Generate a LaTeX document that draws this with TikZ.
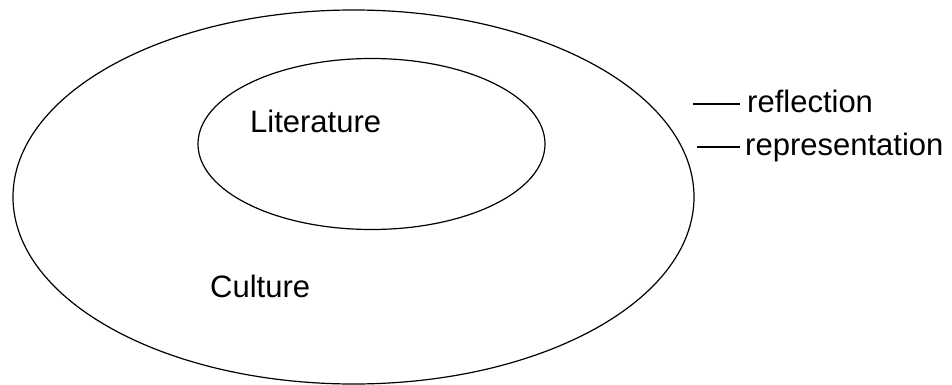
\documentclass[tikz,border=0pt]{standalone}
\usepackage{fontspec}
\setmainfont{Liberation Sans}
\usetikzlibrary{shapes.geometric}
\begin{document}
\begin{tikzpicture}[x=1pt,y=-1pt,
  ring/.style={draw, ellipse, line width=1.2pt, inner sep=0pt},
  lbl/.style={inner sep=0pt, anchor=base west, font=\fontsize{31}{36}\selectfont},
  tick/.style={line width=1.3pt}]
\useasboundingbox (0,0) rectangle (952,385);
\node[ring, minimum width=681pt, minimum height=374pt] (culture) at (353.5,197) {};
\node[ring, minimum width=347pt, minimum height=171pt] (lit) at (371.5,144) {};
\node[lbl] (littext) at (250,132) {Literature};
\node[lbl] (cultext) at (210,297) {Culture};
\node[lbl] (refl) at (747,113) {reflection};
\node[lbl] (repr) at (745,155) {representation};
\coordinate (r1) at (693,104);
\coordinate (r2) at (697,147);
\draw[tick] (r1) -- ++(47,0);
\draw[tick] (r2) -- ++(43,0);
\end{tikzpicture}
\end{document}
